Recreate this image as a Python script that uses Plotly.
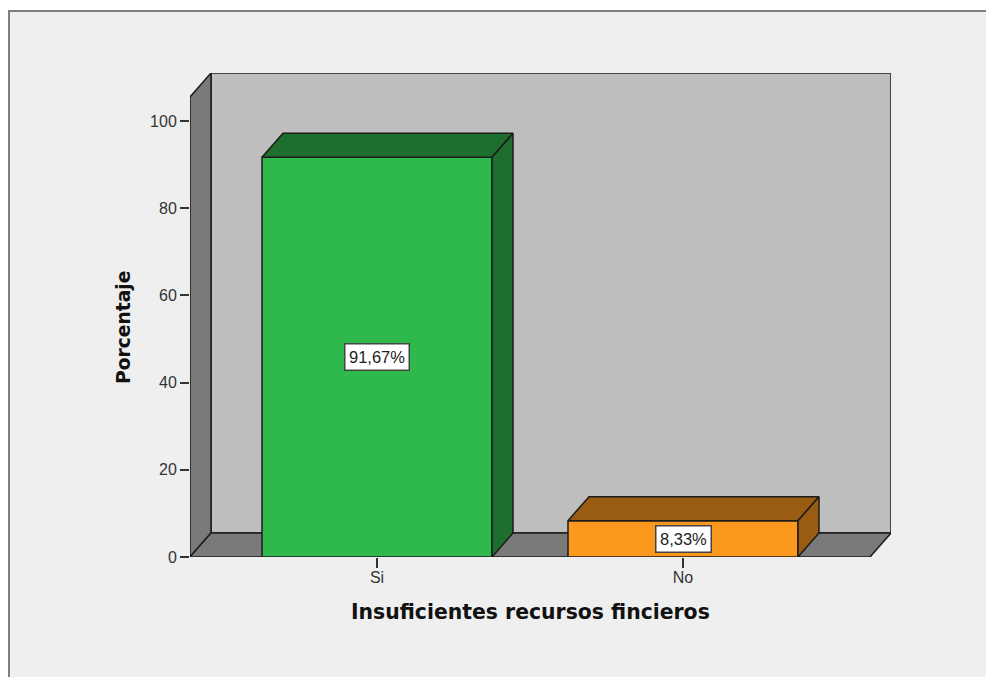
import plotly.graph_objects as go

categories = ["Si", "No"]
values = [91.67, 8.33]
value_labels = ["91,67%", "8,33%"]
face_colors = ["#2fb94c", "#fb991f"]
shade_colors = ["#1e6e2e", "#995c12"]
y_ticks = [0, 20, 40, 60, 80, 100]
x_title = "Insuficientes recursos fincieros"
y_title = "Porcentaje"

W, H = 986, 677
ML, MR, MT, MB = 190, 95, 73, 120
PW, PH = W - ML - MR, H - MT - MB
PX_X = 306.0   # pixels per category
PX_Y = 4.36    # pixels per percentage point
X0 = -(377 - 190) / PX_X
X1 = X0 + PW / PX_X
Y1 = PH / PX_Y
DX = 21 / PX_X
DY = 24 / PX_Y
FRONT_R = (870 - 377) / PX_X
FRONT_T = (557 - 97) / PX_Y
BAR_W = 230 / PX_X
EDGE = "#1c1c1c"


def poly(xs, ys, fill):
    path = "M" + " L".join(f"{a},{b}" for a, b in zip(xs, ys)) + " Z"
    return dict(type="path", path=path, xref="x", yref="y", fillcolor=fill,
                line=dict(color=EDGE, width=1.5), layer="below")


xs = list(range(len(categories)))
fig = go.Figure()

fig.add_trace(go.Bar(x=xs, y=values, width=BAR_W, marker=dict(color=face_colors, line=dict(color=EDGE, width=1.5)),
                     hoverinfo="skip", showlegend=False))

for i, v in enumerate(values):
    l, r = i - BAR_W / 2, i + BAR_W / 2
    fig.add_trace(go.Scatter(x=[l, l + DX, r + DX, r, l], y=[v, v + DY, v + DY, v, v], mode="lines", fill="toself",
                             fillcolor=shade_colors[i], line=dict(color=EDGE, width=1.5),
                             hoverinfo="skip", showlegend=False))
    fig.add_trace(go.Scatter(x=[r, r + DX, r + DX, r, r], y=[0, DY, v + DY, v, 0], mode="lines", fill="toself",
                             fillcolor=shade_colors[i], line=dict(color=EDGE, width=1.5),
                             hoverinfo="skip", showlegend=False))
    fig.add_annotation(x=i, y=v / 2, text=value_labels[i], showarrow=False, bgcolor="white",
                       bordercolor="#444444", borderwidth=1.5, borderpad=3.5,
                       font=dict(family="Liberation Sans", size=16.5, color="#222222"))

fig.add_annotation(x=(530 - ML) / PW, xref="paper", y=-(612 - (H - MB)) / PH, yref="paper", text=f"<b>{x_title}</b>",
                   xanchor="center", yanchor="middle", showarrow=False,
                   font=dict(family="DejaVu Sans", size=20.4, color="#111111"))
fig.add_annotation(x=(123 - ML) / PW, xref="paper", y=((H - MB) - 328) / PH, yref="paper", text=f"<b>{y_title}</b>",
                   xanchor="center", yanchor="middle", textangle=-90, showarrow=False,
                   font=dict(family="DejaVu Sans", size=18.7, color="#111111"))

shapes = [
    dict(type="rect", xref="paper", yref="paper", layer="below",
         x0=(9 - ML) / PW, x1=(W + 10 - ML) / PW,
         y0=(H - MB - (H + 10)) / PH, y1=(H - MB - 11) / PH,
         fillcolor="#efefef", line=dict(color="#7f7f7f", width=2)),
    poly([X0 + DX, X1, X1, X0 + DX], [DY, DY, Y1, Y1], "#bebebe"),
    poly([X0, X0 + DX, X0 + DX, X0], [0, DY, Y1, FRONT_T], "#7a7a7a"),
    poly([X0, X0 + DX, X1, FRONT_R], [0, DY, DY, 0], "#7a7a7a"),
]

fig.update_layout(
    width=W, height=H, margin=dict(l=ML, r=MR, t=MT, b=MB),
    paper_bgcolor="white", plot_bgcolor="rgba(0,0,0,0)", shapes=shapes, showlegend=False,
    font=dict(family="Liberation Sans", size=16, color="#333333"),
    xaxis=dict(range=[X0, X1], tickvals=xs, ticktext=categories, ticks="outside", ticklen=10, tickwidth=1.5,
               ticklabelstandoff=-4, tickcolor="#333333", showgrid=False, zeroline=False, showline=False),
    yaxis=dict(range=[0, Y1], tickvals=y_ticks, ticks="outside", ticklen=9, tickwidth=1.5,
               tickcolor="#333333", showgrid=False, zeroline=False, showline=False),
)

fig.write_html("out.html", config={"displayModeBar": False}, post_script="document.body.style.margin='0';")
